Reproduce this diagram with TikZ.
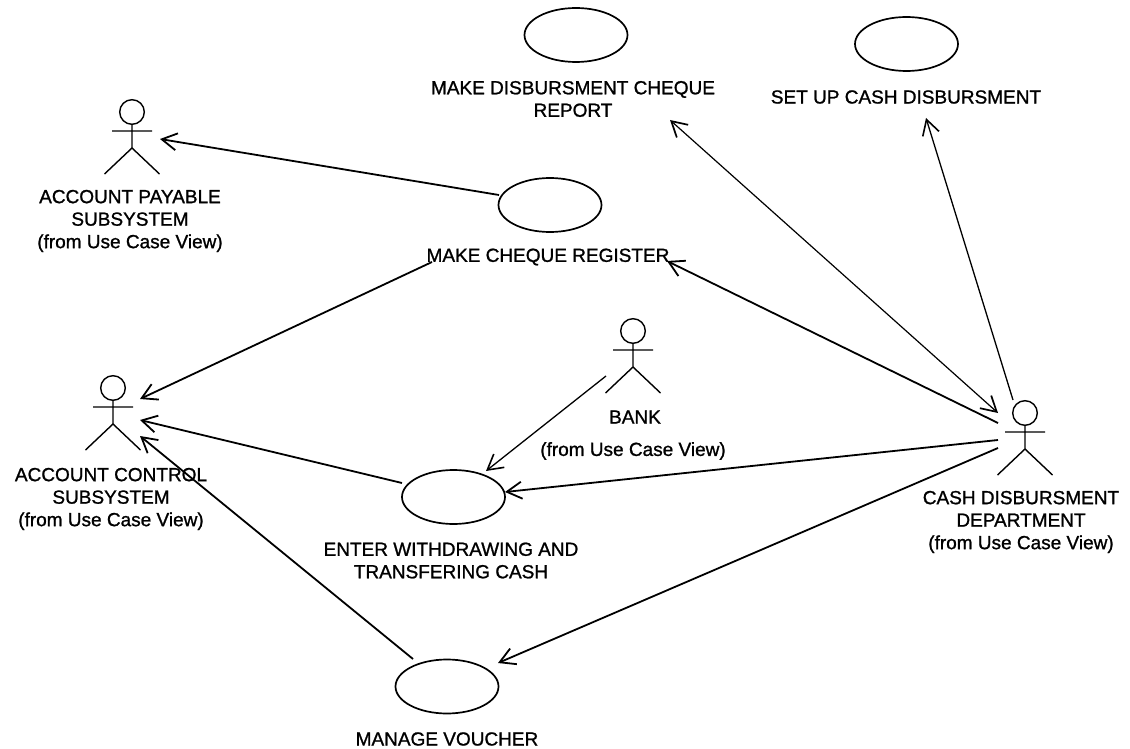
\documentclass[tikz,border=0pt]{standalone}
\usepackage{fontspec}
\setmainfont[FakeBold=1.1]{Liberation Sans}
\usetikzlibrary{arrows.meta,shapes.geometric}
\tikzset{
 uc/.style={draw,ellipse,line width=1.7pt,minimum width=103pt,minimum height=54pt,inner sep=0pt},
 lbl/.style={font=\fontsize{19}{22.5}\selectfont,align=center,text=black,inner sep=0pt},
 conn/.style={line width=1.8pt,-{Straight Barb[length=15pt,width=17pt,line width=1.8pt]}},
 thinconn/.style={line width=1.3pt,-{Straight Barb[length=15pt,width=17pt,line width=1.6pt]}},
 bothconn/.style={line width=1.2pt,{Straight Barb[length=15pt,width=17pt,line width=1.7pt]}-{Straight Barb[length=15pt,width=17pt,line width=1.7pt]}},
 act/.style={line width=1.4pt}
}
\newcommand{\actor}[3]{%
 \draw[act] (#1,#2) circle (12.3);
 \draw[act] (#1,#2+12.3) -- (#1,#2+36) (#1-20,#2+19) -- (#1+20,#2+19)
  (#1-27.5,#2+62) -- (#1,#2+36) -- (#1+27.5,#2+62);
}
\begin{document}
\begin{tikzpicture}[x=1pt,y=-1pt]
\useasboundingbox (0,0) rectangle (1130,749);
\node[uc] (u1) at (576,35) {};
\node[uc] (u2) at (906.5,44) {};
\node[uc] (u3) at (550,205) {};
\node[uc] (u4) at (453.5,497) {};
\node[uc] (u5) at (447,686.5) {};
\actor{132}{112}{a1}
\actor{113}{388}{a2}
\actor{633}{331}{a3}
\actor{1025}{413}{a4}
\node[lbl] (t1) at (573,99) {MAKE DISBURSMENT CHEQUE\\REPORT};
\node[lbl] (t2) at (906,97) {SET UP CASH DISBURSMENT};
\node[lbl] (t3) at (548,257) {MAKE CHEQUE REGISTER};
\node[lbl] (t4) at (130,221) {ACCOUNT PAYABLE\\SUBSYSTEM\\(from Use Case View)};
\node[lbl] (t5) at (111,499) {ACCOUNT CONTROL\\SUBSYSTEM\\(from Use Case View)};
\node[lbl] (t6) at (635,417) {BANK};
\node[lbl] (t7) at (633,451) {(from Use Case View)};
\node[lbl] (t8) at (451,560.5) {ENTER WITHDRAWING AND\\TRANSFERING CASH};
\node[lbl] (t9) at (1021,522) {CASH DISBURSMENT\\DEPARTMENT\\(from Use Case View)};
\node[lbl] (t10) at (447,739) {MANAGE VOUCHER};
\coordinate (p1) at (499,195);
\coordinate (p1e) at (160,139);
\coordinate (p2) at (432,262);
\coordinate (p2e) at (140,399);
\coordinate (p3) at (402,483);
\coordinate (p3e) at (140,420);
\coordinate (p4) at (413,659);
\coordinate (p4e) at (140,436);
\coordinate (p5) at (606,376);
\coordinate (p5e) at (486,471);
\coordinate (p6) at (998,440);
\coordinate (p6e) at (505,492);
\coordinate (p7) at (998,448);
\coordinate (p7e) at (498,663);
\coordinate (p8) at (998,423);
\coordinate (p8e) at (667,261);
\coordinate (p9) at (998,413);
\coordinate (p9e) at (670,120);
\coordinate (p10) at (1013,400);
\coordinate (p10e) at (926,118);
\draw[conn] (p1) -- (p1e);
\draw[conn] (p2) -- (p2e);
\draw[conn] (p3) -- (p3e);
\draw[conn] (p4) -- (p4e);
\draw[thinconn] (p5) -- (p5e);
\draw[conn] (p6) -- (p6e);
\draw[conn] (p7) -- (p7e);
\draw[conn] (p8) -- (p8e);
\draw[bothconn] (p9e) -- (p9);
\draw[thinconn] (p10) -- (p10e);
\end{tikzpicture}
\end{document}
